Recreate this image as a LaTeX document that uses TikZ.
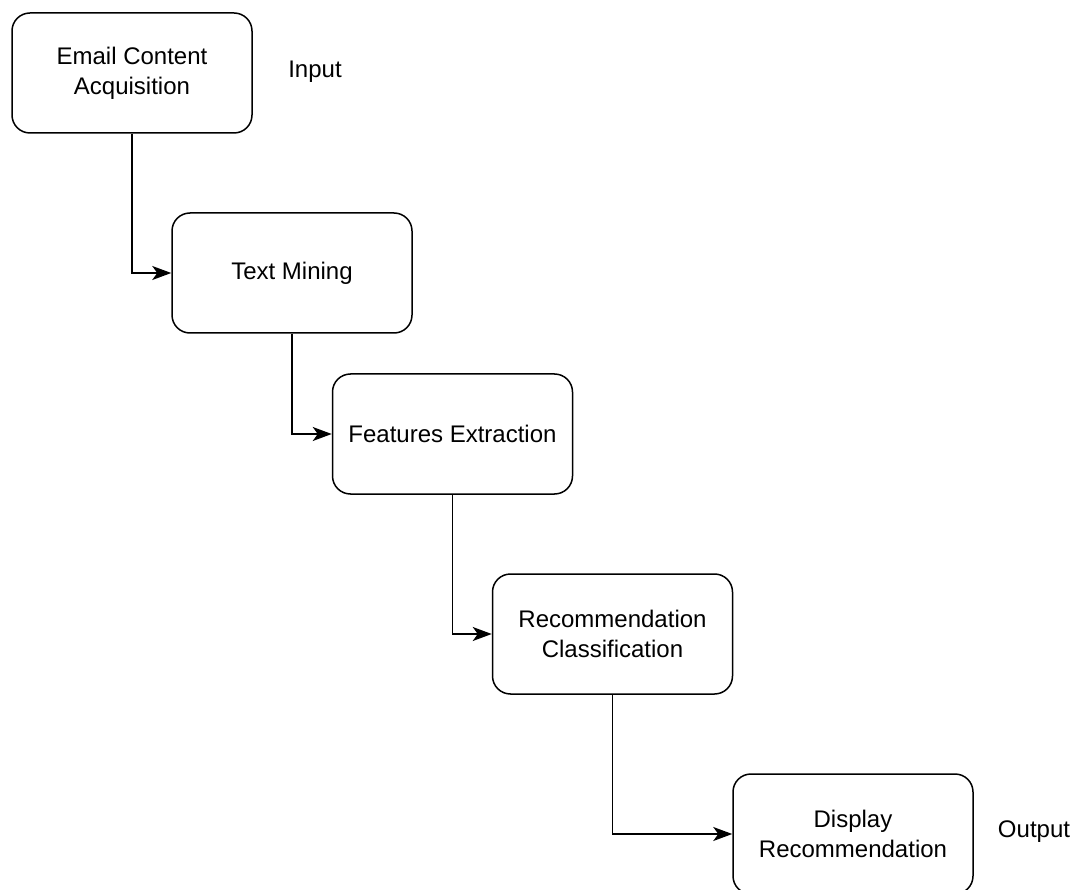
\documentclass[tikz,border=0pt]{standalone}
\usepackage{fontspec}
\setmainfont{Liberation Sans}
\usetikzlibrary{arrows.meta}
\begin{document}
\begin{tikzpicture}[x=1pt,y=-1pt,
  box/.style={draw, line width=1.5pt, rounded corners=18pt, minimum width=240pt, minimum height=120pt,
    align=center, font=\fontsize{24}{30}\selectfont, inner sep=0pt},
  lbl/.style={font=\fontsize{24}{30}\selectfont, inner sep=0pt},
  conn/.style={line width=1.5pt, -{Stealth[length=19pt,width=14pt,inset=5pt]}}]
\useasboundingbox (0,0) rectangle (1079,890);
\node[box] (b1) at (132,73) {Email Content\\Acquisition};
\node[box] (b2) at (292,273) {Text Mining};
\node[box] (b3) at (452.5,434) {Features Extraction};
\node[box] (b4) at (612.5,634) {Recommendation\\Classification};
\node[box] (b5) at (853,834) {Display\\Recommendation};
\node[lbl] (in) at (315,72) {Input};
\node[lbl] (out) at (1034,832) {Output};
\draw[conn] (b1.south) |- (b2.west);
\draw[conn] (b2.south) |- (b3.west);
\draw[conn] (b3.south) |- (b4.west);
\draw[conn] (b4.south) |- (b5.west);
\end{tikzpicture}
\end{document}
